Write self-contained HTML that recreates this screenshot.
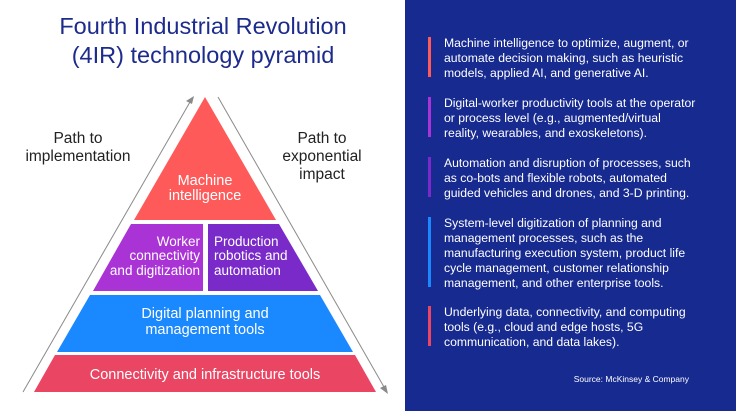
<!DOCTYPE html>
<html><head><meta charset="utf-8"><style>
html,body{margin:0;padding:0;background:#fff;}
svg{display:block}
text{font-family:"Liberation Sans",sans-serif;}
</style></head><body>
<svg width="736" height="411" viewBox="0 0 736 411" xmlns="http://www.w3.org/2000/svg">
<rect x="0" y="0" width="405" height="411" fill="#fff"/>
<rect x="405" y="0" width="331" height="411" fill="#172a8f"/>
<text x="203" y="34" font-size="23.5" fill="#1c2b8c" text-anchor="middle">Fourth Industrial Revolution</text>
<text x="203" y="63" font-size="23.5" fill="#1c2b8c" text-anchor="middle">(4IR) technology pyramid</text>
<line x1="23" y1="392" x2="190" y2="102" stroke="#8a8a8a" stroke-width="1"/>
<polygon points="194,96 186,101 192,104" fill="#8a8a8a"/>
<line x1="218" y1="97" x2="384" y2="387" stroke="#8a8a8a" stroke-width="1"/>
<polygon points="388,394 380,388 386,385" fill="#8a8a8a"/>
<polygon points="205,97 276,220 134,220" fill="#ff5a5a"/>
<polygon points="131,224 203,224 203,291 93,291" fill="#a933d4"/>
<polygon points="208,224 279,224 318,291 208,291" fill="#7a2ac8"/>
<polygon points="90,295 320,295 353,352 57,352" fill="#1a88ff"/>
<polygon points="55,355 355,355 376,392 34,392" fill="#ea4562"/>
<g fill="#fff" font-size="14.5">
<text x="205" y="185" text-anchor="middle">Machine</text>
<text x="205" y="200" text-anchor="middle">intelligence</text>
</g>
<g fill="#fff" font-size="13.5">
<text x="200" y="246" text-anchor="end">Worker</text>
<text x="200" y="260" text-anchor="end">connectivity</text>
<text x="200" y="275" text-anchor="end">and digitization</text>
<text x="214" y="246">Production</text>
<text x="214" y="260">robotics and</text>
<text x="214" y="275">automation</text>
</g>
<g fill="#fff" font-size="14.5">
<text x="205" y="318" text-anchor="middle">Digital planning and</text>
<text x="205" y="334" text-anchor="middle">management tools</text>
<text x="205" y="379" text-anchor="middle">Connectivity and infrastructure tools</text>
</g>
<g fill="#222" font-size="15.5">
<text x="78" y="143" text-anchor="middle">Path to</text>
<text x="78" y="161" text-anchor="middle">implementation</text>
<text x="322" y="143" text-anchor="middle">Path to</text>
<text x="322" y="161" text-anchor="middle">exponential</text>
<text x="322" y="179" text-anchor="middle">impact</text>
</g>
<rect x="428" y="37" width="3" height="40" fill="#ff5a5a"/>
<rect x="428" y="97" width="3" height="40" fill="#a933d4"/>
<rect x="428" y="157" width="3" height="40" fill="#7a2ac8"/>
<rect x="428" y="217" width="3" height="70" fill="#1a88ff"/>
<rect x="428" y="306" width="3" height="40" fill="#ea4562"/>
<g fill="#fff" font-size="12.2">
<text x="444" y="47">Machine intelligence to optimize, augment, or</text>
<text x="444" y="62">automate decision making, such as heuristic</text>
<text x="444" y="77">models, applied AI, and generative AI.</text>
<text x="444" y="107">Digital-worker productivity tools at the operator</text>
<text x="444" y="122">or process level (e.g., augmented/virtual</text>
<text x="444" y="137">reality, wearables, and exoskeletons).</text>
<text x="444" y="167">Automation and disruption of processes, such</text>
<text x="444" y="182">as co-bots and flexible robots, automated</text>
<text x="444" y="197">guided vehicles and drones, and 3-D printing.</text>
<text x="444" y="227">System-level digitization of planning and</text>
<text x="444" y="242">management processes, such as the</text>
<text x="444" y="257">manufacturing execution system, product life</text>
<text x="444" y="272">cycle management, customer relationship</text>
<text x="444" y="287">management, and other enterprise tools.</text>
<text x="444" y="316">Underlying data, connectivity, and computing</text>
<text x="444" y="331">tools (e.g., cloud and edge hosts, 5G</text>
<text x="444" y="346">communication, and data lakes).</text>
</g>
<text x="689" y="382" font-size="8.5" fill="#fff" text-anchor="end">Source: McKinsey &amp; Company</text>
</svg>
</body></html>
